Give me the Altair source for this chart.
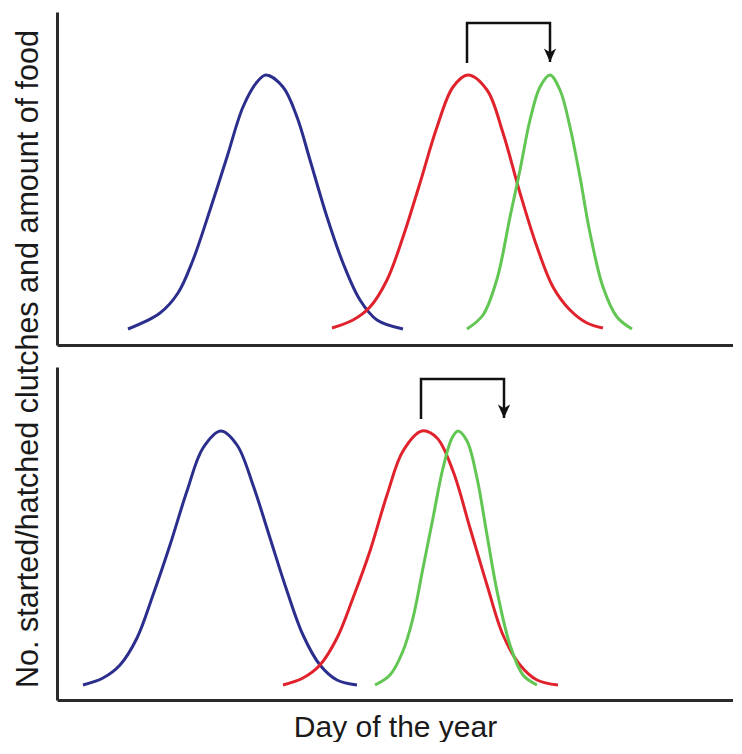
import altair as alt
import pandas as pd

# x: pixels from the y axis (day of year, arbitrary units); y: height above x axis
top_blue_x = [71, 103, 121, 136, 153, 170, 186, 200, 209, 226, 240, 253, 270, 286, 303, 320, 346]
top_blue_y = [16, 32, 52, 85, 135, 188, 238, 263, 270, 258, 228, 185, 128, 82, 45, 25, 16]
top_red_x = [275, 296, 313, 330, 346, 363, 380, 396, 411, 430, 446, 463, 480, 496, 513, 530, 546]
top_red_y = [17, 25, 38, 65, 108, 162, 218, 258, 270, 255, 212, 152, 98, 58, 35, 22, 17]
top_green_x = [410, 426, 440, 453, 463, 473, 483, 493, 503, 513, 523, 533, 546, 560, 575]
top_green_y = [16, 30, 66, 128, 175, 225, 258, 270, 255, 218, 168, 112, 58, 28, 16]

bot_blue_x = [26, 46, 63, 80, 96, 113, 130, 146, 164, 180, 196, 213, 230, 246, 263, 280, 300]
bot_blue_y = [15, 22, 35, 62, 105, 155, 209, 252, 269, 255, 215, 162, 109, 65, 35, 20, 15]
bot_red_x = [226, 246, 263, 280, 296, 313, 330, 346, 365, 380, 396, 413, 430, 446, 463, 480, 501]
bot_red_y = [15, 22, 35, 62, 102, 149, 205, 249, 269, 262, 229, 172, 115, 65, 35, 20, 15]
bot_green_x = [318, 333, 346, 356, 366, 376, 386, 395, 401, 410, 420, 430, 440, 453, 466, 480]
bot_green_y = [15, 25, 49, 82, 132, 182, 232, 262, 269, 259, 222, 165, 109, 55, 25, 15]

# arrow paths (shift of peak)
top_arrow_x = [410, 410, 493, 493]
top_arrow_y = [282, 322, 322, 283]
bot_arrow_x = [364, 364, 447, 447]
bot_arrow_y = [281, 321, 321, 282]

series_names = ["blue", "red", "green"]
series_colors = ["#2b2e8c", "#e0222c", "#62c653"]

X_MAX = 676
Y_MAX = 333


def curves_df(xs_list, ys_list):
    rows = []
    for name, xs, ys in zip(series_names, xs_list, ys_list):
        for i, (x, y) in enumerate(zip(xs, ys)):
            rows.append({"series": name, "x": x, "y": y, "i": i})
    return pd.DataFrame(rows)


def arrow_df(xs, ys):
    return pd.DataFrame({"x": xs, "y": ys, "i": list(range(len(xs)))})


def panel(curves, arrow, show_x_title):
    xscale = alt.Scale(domain=[0, X_MAX], nice=False, zero=False)
    yscale = alt.Scale(domain=[0, Y_MAX], nice=False, zero=False)
    xaxis = alt.Axis(
        title="Day of the year" if show_x_title else "",
        labels=False, ticks=False, grid=False,
        domainColor="#2a2a2a", domainWidth=3,
        titleFont="Liberation Sans", titleFontSize=30, titleFontWeight="normal",
        titleColor="#1a1a1a", titlePadding=12,
    )
    yaxis = alt.Axis(
        title="", labels=False, ticks=False, grid=False,
        domainColor="#2a2a2a", domainWidth=3,
    )
    lines = alt.Chart(curves).mark_line(
        strokeWidth=3, interpolate="catmull-rom"
    ).encode(
        x=alt.X("x:Q", scale=xscale, axis=xaxis),
        y=alt.Y("y:Q", scale=yscale, axis=yaxis),
        color=alt.Color("series:N", scale=alt.Scale(domain=series_names, range=series_colors), legend=None),
        detail="series:N",
        order="i:Q",
    )
    arr = alt.Chart(arrow).mark_line(color="#111111", strokeWidth=2.5).encode(
        x=alt.X("x:Q", scale=xscale),
        y=alt.Y("y:Q", scale=yscale),
        order="i:Q",
    )
    head = alt.Chart(arrow).transform_filter("datum.i == 3").mark_point(
        shape="M -0.5 -1.1 L 0 0 L 0.5 -1.1 L 0 -0.8 Z",
        filled=True, color="#111111", size=600, opacity=1,
    ).encode(
        x=alt.X("x:Q", scale=xscale),
        y=alt.Y("y:Q", scale=yscale),
    )
    return alt.layer(lines, arr, head).properties(width=X_MAX, height=Y_MAX)


top = panel(curves_df([top_blue_x, top_red_x, top_green_x], [top_blue_y, top_red_y, top_green_y]),
            arrow_df(top_arrow_x, top_arrow_y), False)
bot = panel(curves_df([bot_blue_x, bot_red_x, bot_green_x], [bot_blue_y, bot_red_y, bot_green_y]),
            arrow_df(bot_arrow_x, bot_arrow_y), True)

chart = alt.vconcat(top, bot, spacing=22).properties(
    title=alt.TitleParams(
        "No. started/hatched clutches and amount of food",
        orient="left", anchor="middle", fontSize=30.5, font="Liberation Sans",
        fontWeight="normal", color="#1a1a1a", offset=13, dx=18,
    ),
    padding={"left": 5, "top": 4, "right": 0, "bottom": 0},
).configure_view(strokeWidth=0)

chart.save("out.html", embed_options={"renderer": "svg", "actions": False})
